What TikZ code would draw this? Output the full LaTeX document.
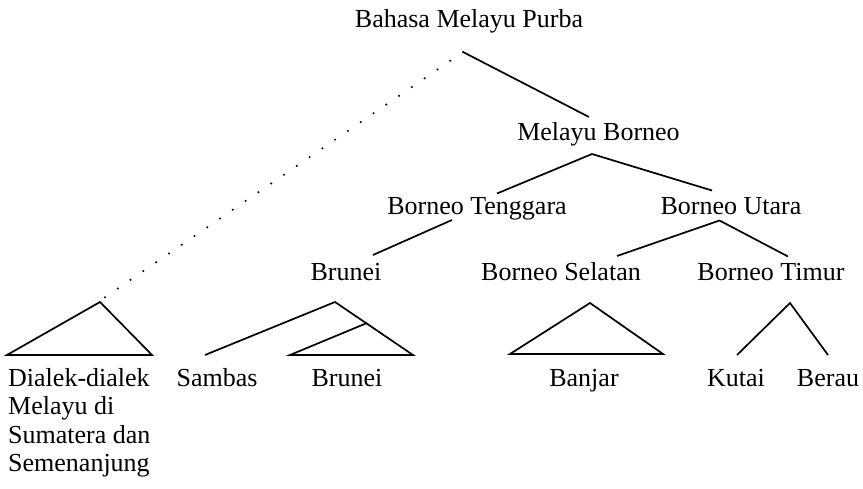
\documentclass[tikz,border=0pt]{standalone}
\usepackage{fontspec}
\setmainfont{Liberation Serif}
\begin{document}
\begin{tikzpicture}[x=1pt,y=-1pt,
  lbl/.style={inner sep=0pt, anchor=base, font=\fontsize{26}{28.3}\selectfont},
  branch/.style={line width=1.7pt, line join=miter},
  dots/.style={line width=2.3pt, line cap=round, dash pattern=on 0pt off 15.5pt}]
\useasboundingbox (0,0) rectangle (863,489);
% labels
\node[lbl] (bmp) at (469,28) {Bahasa Melayu Purba};
\node[lbl] (mb) at (598.5,140.5) {Melayu Borneo};
\node[lbl] (bt) at (477,214.5) {Borneo Tenggara};
\node[lbl] (bu) at (731,214.5) {Borneo Utara};
\node[lbl] (bru1) at (346,281) {Brunei};
\node[lbl] (bs) at (561,281) {Borneo Selatan};
\node[lbl] (btm) at (771,281) {Borneo Timur};
\node[lbl, anchor=base west, text width=160pt, align=flush left] (dd) at (8,386.7) {Dialek-dialek\\Melayu di\\Sumatera dan\\Semenanjung};
\node[lbl] (sam) at (217,386.7) {Sambas};
\node[lbl] (bru2) at (347,386.7) {Brunei};
\node[lbl] (ban) at (584,386.7) {Banjar};
\node[lbl] (kut) at (736,386.7) {Kutai};
\node[lbl] (ber) at (828,386.7) {Berau};
% branch points
\coordinate (a0) at (463,52);
\coordinate (a0r) at (589,117);
\coordinate (a0l) at (104,298);
\coordinate (a1) at (592,154);
\coordinate (a1l) at (497,193.5);
\coordinate (a1r) at (712,190.5);
\coordinate (t1) at (452,220);
\coordinate (t1e) at (373,255);
\coordinate (a2) at (719.5,220.5);
\coordinate (a2l) at (617,256);
\coordinate (a2r) at (788,256.5);
\coordinate (d0) at (100,302);
\coordinate (dl) at (7,355);
\coordinate (dr) at (152,355);
\coordinate (b0) at (335,302);
\coordinate (bl) at (205,355);
\coordinate (br) at (413,355);
\coordinate (bm) at (367,323);
\coordinate (bml) at (290,355);
\coordinate (j0) at (590,303);
\coordinate (jl) at (510,354);
\coordinate (jr) at (663,354);
\coordinate (k0) at (790,303);
\coordinate (kl) at (737,355);
\coordinate (kr) at (828,355);
% connectors
\draw[branch] (a0) -- (a0r);
\draw[dots] (a0) -- (a0l);
\draw[branch] (a1l) -- (a1) -- (a1r);
\draw[branch] (t1) -- (t1e);
\draw[branch] (a2l) -- (a2) -- (a2r);
\draw[branch] (d0) -- (dl) -- (dr) -- cycle;
\draw[branch] (bl) -- (b0) -- (br) -- (bml) -- (bm);
\draw[branch] (j0) -- (jl) -- (jr) -- cycle;
\draw[branch] (kl) -- (k0) -- (kr);
\end{tikzpicture}
\end{document}
